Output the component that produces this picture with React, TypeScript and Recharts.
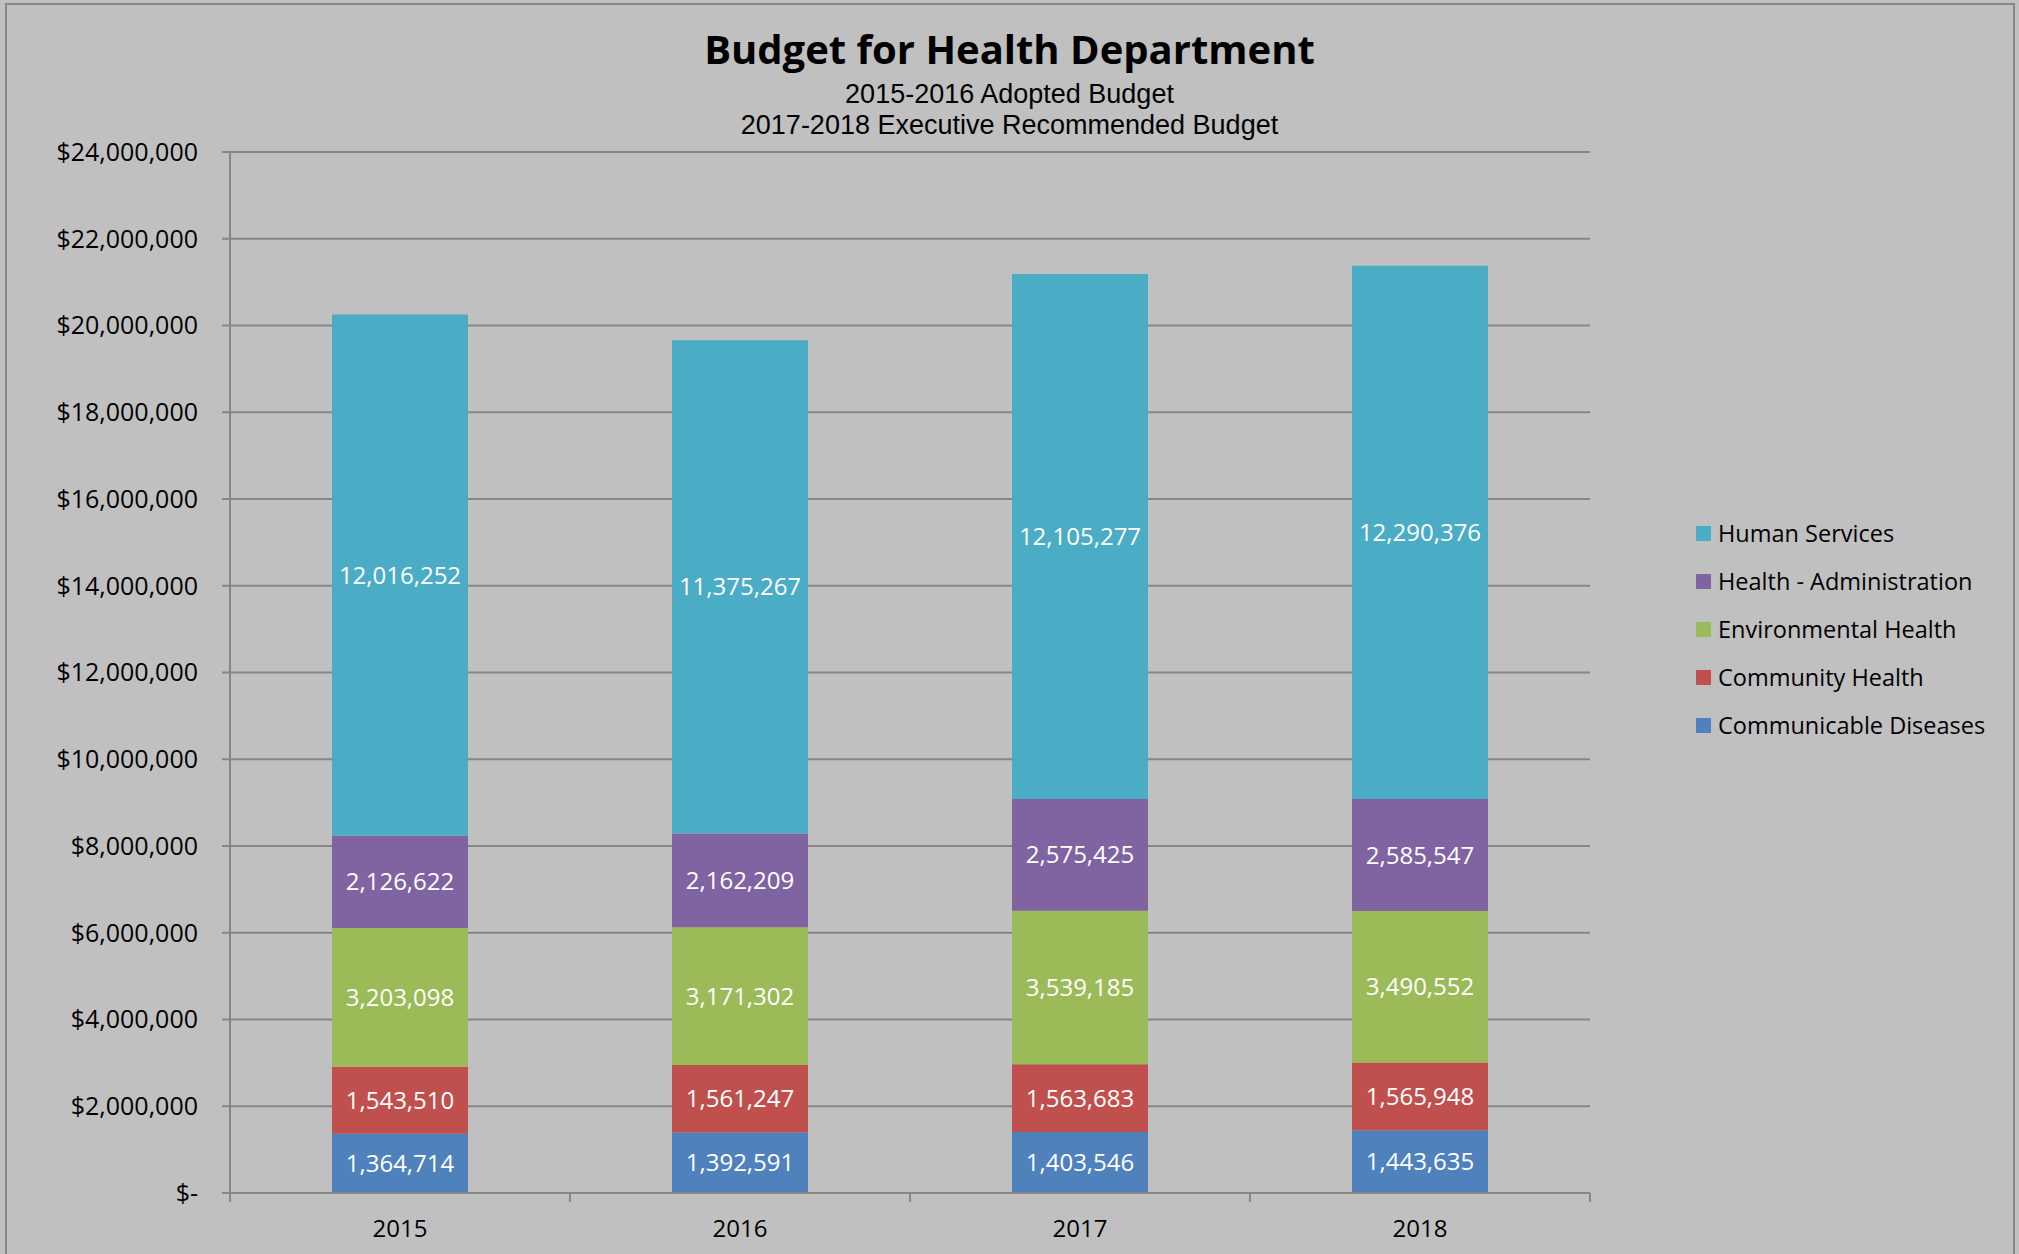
import { BarChart, Bar, XAxis, YAxis, CartesianGrid, LabelList } from "recharts";

const years = ["2015", "2016", "2017", "2018"];
const communicable = [1364714, 1392591, 1403546, 1443635];
const community = [1543510, 1561247, 1563683, 1565948];
const environmental = [3203098, 3171302, 3539185, 3490552];
const administration = [2126622, 2162209, 2575425, 2585547];
const humanServices = [12016252, 11375267, 12105277, 12290376];
const yTicks = [0, 2000000, 4000000, 6000000, 8000000, 10000000, 12000000, 14000000, 16000000, 18000000, 20000000, 22000000, 24000000];

const series = [
  { key: "communicable", name: "Communicable Diseases", color: "#4f81bd", values: communicable },
  { key: "community", name: "Community Health", color: "#c0504d", values: community },
  { key: "environmental", name: "Environmental Health", color: "#9bbb59", values: environmental },
  { key: "administration", name: "Health - Administration", color: "#8064a2", values: administration },
  { key: "humanServices", name: "Human Services", color: "#4bacc6", values: humanServices },
];

const data = years.map((year, i) => {
  const row: Record<string, string | number> = { year };
  series.forEach((s) => (row[s.key] = s.values[i]));
  return row;
});

const FONT = "'Open Sans', sans-serif";
const SUB_FONT = "'Liberation Sans', Arial, sans-serif";
const GRID = "#868686";
const HALF_BAND = 170;

const fmtMoney = (v: number) => (v === 0 ? "$-" : "$" + v.toLocaleString("en-US"));

function CategoryTick(props: any) {
  const { x, y, payload, index } = props;
  return (
    <g>
      <line x1={x - HALF_BAND} x2={x - HALF_BAND} y1={y} y2={y + 9} stroke={GRID} strokeWidth={2} />
      {index === years.length - 1 && (
        <line x1={x + HALF_BAND} x2={x + HALF_BAND} y1={y} y2={y + 9} stroke={GRID} strokeWidth={2} />
      )}
      <text x={x} y={y + 34} textAnchor="middle" dominantBaseline="central" fill="#000" fontSize={24} fontFamily={FONT}>
        {payload.value}
      </text>
    </g>
  );
}

const line = (top: number, size: number, h: number, family: string, bold = false) => ({
  position: "absolute" as const,
  left: 0,
  width: 2019,
  top,
  height: h,
  lineHeight: `${h}px`,
  textAlign: "center" as const,
  fontSize: size,
  fontFamily: family,
  fontWeight: bold ? 700 : 400,
  color: "#000",
  whiteSpace: "nowrap" as const,
});

export default function App() {
  return (
    <div style={{ position: "absolute", left: 0, top: 0, width: 2019, height: 1254, background: "#c0c0c0", overflow: "hidden", fontFamily: FONT }}>
      <div style={{ position: "absolute", left: 5, top: 3, width: 2006, height: 1300, border: `2px solid ${GRID}` }} />
      <div style={line(22, 40, 54, FONT, true)}>Budget for Health Department</div>
      <div style={line(78.5, 27, 30, SUB_FONT)}>2015-2016 Adopted Budget</div>
      <div style={line(109.5, 27, 30, SUB_FONT)}>2017-2018 Executive Recommended Budget</div>

      <div style={{ position: "absolute", left: 0, top: 0 }}>
        <BarChart width={2019} height={1254} data={data} margin={{ top: 152, right: 429, bottom: 0, left: 0 }} barCategoryGap="30%">
          <CartesianGrid horizontal vertical={false} stroke={GRID} strokeWidth={2} />
          <XAxis
            dataKey="year"
            height={61}
            axisLine={{ stroke: GRID, strokeWidth: 2 }}
            tickLine={false}
            tickSize={0}
            tickMargin={0}
            tick={<CategoryTick />}
          />
          <YAxis
            width={230}
            domain={[0, 24000000]}
            ticks={yTicks}
            interval={0}
            tickFormatter={fmtMoney}
            axisLine={{ stroke: GRID, strokeWidth: 2 }}
            tickLine={{ stroke: GRID, strokeWidth: 2 }}
            tickSize={8}
            tickMargin={24}
            tick={{ fill: "#000", fontSize: 25, fontFamily: FONT }}
          />
          {series.map((s) => (
            <Bar key={s.key} dataKey={s.key} name={s.name} stackId="a" fill={s.color} isAnimationActive={false}>
              <LabelList
                dataKey={s.key}
                position="center"
                fill="#fff"
                fontSize={24}
                fontFamily={FONT}
                formatter={(v: any) => Number(v).toLocaleString("en-US")}
              />
            </Bar>
          ))}
        </BarChart>
      </div>

      {[...series].reverse().map((s, i) => (
        <div key={s.key} style={{ position: "absolute", left: 1696, top: 533 + i * 48 - 16, height: 32, display: "flex", alignItems: "center" }}>
          <div style={{ width: 15, height: 15, background: s.color, marginRight: 7 }} />
          <span style={{ fontSize: 23.5, color: "#000", whiteSpace: "nowrap" }}>{s.name}</span>
        </div>
      ))}
    </div>
  );
}
